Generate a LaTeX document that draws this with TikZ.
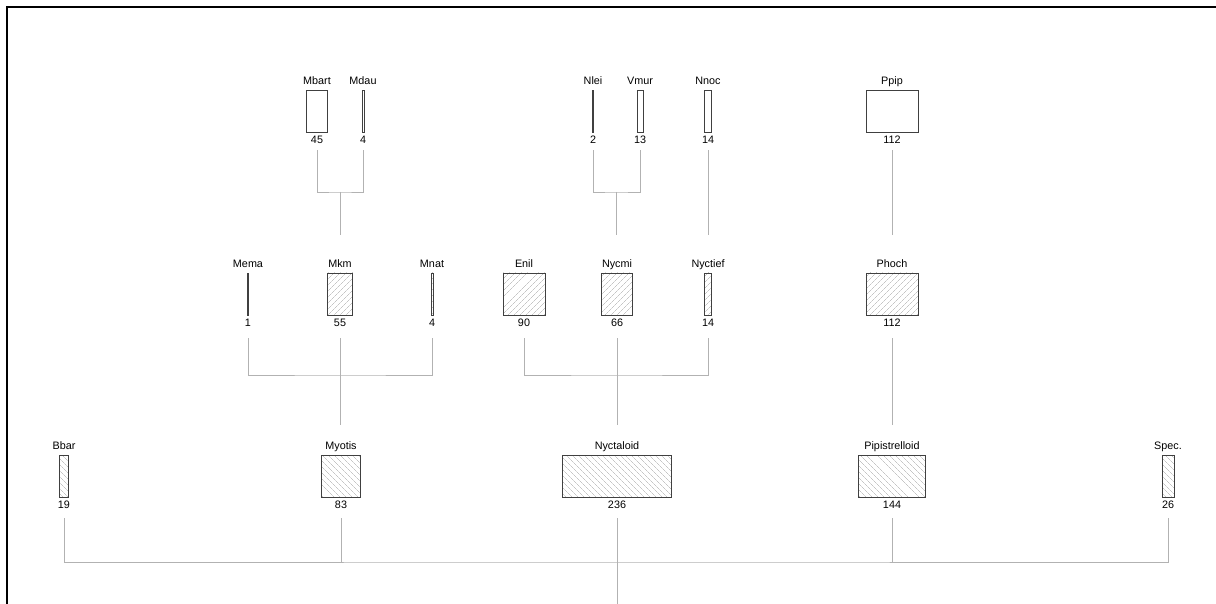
\documentclass[tikz,border=0pt]{standalone}
\usepackage{fontspec}
\setmainfont{Liberation Sans}
\usetikzlibrary{patterns.meta}
\tikzset{
  box/.style={draw=black!75, line width=0.8pt, inner sep=0pt, minimum height=42pt},
  plain/.style={},
  hatchA/.style={pattern={Lines[angle=45,distance=4pt,line width=0.4pt]}, pattern color=black!35},
  hatchB/.style={pattern={Lines[angle=-45,distance=4pt,line width=0.4pt]}, pattern color=black!35},
  txt/.style={font=\fontsize{10.8}{12}\selectfont, inner sep=0pt, text height=7.8pt, text depth=2pt},
  conn/.style={draw=black!30, line width=0.8pt},
  frame/.style={line width=1.6pt}
}
\newcommand\taxon[6]{%
  \node[box,#6,minimum width={#4*0.465pt}] (#1) at (#2,#3) {};
  \node[txt] (#1L) at (#2,#3-29) {#5};
  \node[txt] (#1N) at (#2,#3+30) {#4};
}
\begin{document}
\begin{tikzpicture}[x=1pt,y=-1pt]
\useasboundingbox (0,0) rectangle (1216,604);
\coordinate (f1) at (7,604);
\coordinate (f2) at (7,7);
\coordinate (f3) at (1216,7);
\draw[frame] (f1) -- (f2) -- (f3);
% top row
\taxon{mbart}{317}{111}{45}{Mbart}{plain}
\taxon{mdau}{363}{111}{4}{Mdau}{plain}
\taxon{nlei}{593}{111}{2}{Nlei}{plain}
\taxon{vmur}{640}{111}{13}{Vmur}{plain}
\taxon{nnoc}{708}{111}{14}{Nnoc}{plain}
\taxon{ppip}{892}{111}{112}{Ppip}{plain}
% middle row
\taxon{mema}{248}{294}{1}{Mema}{hatchA}
\taxon{mkm}{340}{294}{55}{Mkm}{hatchA}
\taxon{mnat}{432}{294}{4}{Mnat}{hatchA}
\taxon{enil}{524}{294}{90}{Enil}{hatchA}
\taxon{nycmi}{617}{294}{66}{Nycmi}{hatchA}
\taxon{nyctief}{708}{294}{14}{Nyctief}{hatchA}
\taxon{phoch}{892}{294}{112}{Phoch}{hatchA}
% bottom row
\taxon{bbar}{64}{476}{19}{Bbar}{hatchB}
\taxon{myotis}{341}{476}{83}{Myotis}{hatchB}
\taxon{nyctaloid}{617}{476}{236}{Nyctaloid}{hatchB}
\taxon{pipi}{892}{476}{144}{Pipistrelloid}{hatchB}
\taxon{spec}{1168}{476}{26}{Spec.}{hatchB}
% top connectors
\coordinate (j1) at (340,192);
\coordinate (e1) at (340,235);
\coordinate (j2) at (616,192);
\coordinate (e2) at (616,235);
\coordinate (e3) at (708,235);
\coordinate (e4) at (892,235);
\draw[conn] ([yshift=-4pt]mbartN.south) |- (j1) -| ([yshift=-4pt]mdauN.south);
\draw[conn] (j1) -- (e1);
\draw[conn] ([yshift=-4pt]nleiN.south) |- (j2) -| ([yshift=-4pt]vmurN.south);
\draw[conn] (j2) -- (e2);
\draw[conn] ([yshift=-4pt]nnocN.south) -- (e3);
\draw[conn] ([yshift=-4pt]ppipN.south) -- (e4);
% middle connectors
\coordinate (j3) at (340,375);
\coordinate (e5) at (340,425);
\coordinate (j4) at (617,375);
\coordinate (e6) at (617,425);
\coordinate (e7) at (892,425);
\draw[conn] ([yshift=-9pt]memaN.south) |- (j3) -| ([yshift=-9pt]mnatN.south);
\draw[conn] ([yshift=-9pt]mkmN.south) -- (e5);
\draw[conn] ([yshift=-9pt]enilN.south) |- (j4) -| ([yshift=-9pt]nyctiefN.south);
\draw[conn] ([yshift=-9pt]nycmiN.south) -- (e6);
\draw[conn] ([yshift=-9pt]phochN.south) -- (e7);
% bottom connectors
\coordinate (j5) at (617,562);
\coordinate (e8) at (617,604);
\draw[conn] ([yshift=-7pt]bbarN.south) |- (j5) -| ([yshift=-7pt]specN.south);
\draw[conn] ([yshift=-7pt]myotisN.south) -- (myotisN.south |- j5);
\draw[conn] ([yshift=-7pt]pipiN.south) -- (pipiN.south |- j5);
\draw[conn] ([yshift=-7pt]nyctaloidN.south) -- (e8);
\end{tikzpicture}
\end{document}
